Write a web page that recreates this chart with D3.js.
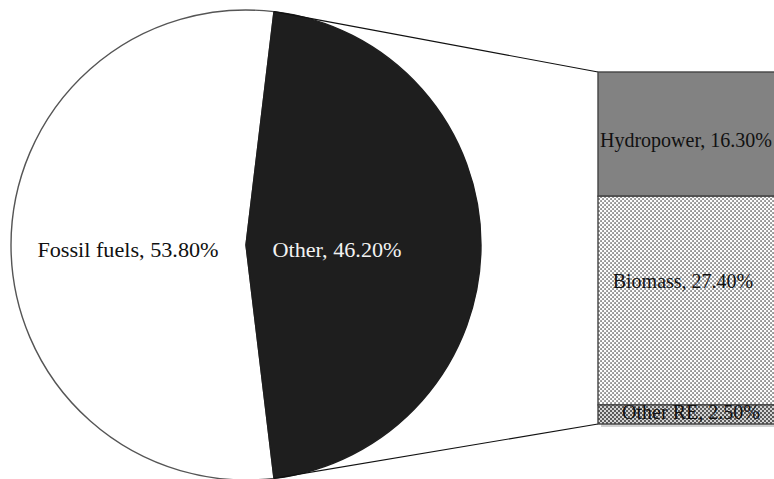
<!DOCTYPE html>
<html>
<head>
<meta charset="utf-8">
<title>Pie of bar</title>
<script src="https://d3js.org/d3.v7.min.js"></script>
<style>
  body { margin: 0; background: #fff; }
  text { font-family: "Liberation Serif", "Times New Roman", serif; }
</style>
</head>
<body>
<div id="chart"></div>
<script>
// pie data
var pieCategories = ["Fossil fuels", "Other"];
var pieValues = [53.8, 46.2];
// bar breakdown of "Other"
var barCategories = ["Hydropower", "Biomass", "Other RE"];
var barValues = [16.3, 27.4, 2.5];

var width = 774, height = 479;
var cx = 246, cy = 245, radius = 235;
var barX = 598, barW = 180, barTop = 72, barBottom = 424;

var svg = d3.select("#chart").append("svg")
  .attr("width", width).attr("height", height);

var defs = svg.append("defs");
// dotted pattern for biomass
var p1 = defs.append("pattern").attr("id", "dots").attr("patternUnits", "userSpaceOnUse")
  .attr("width", 4).attr("height", 4);
p1.append("rect").attr("width", 4).attr("height", 4).attr("fill", "#fdfdfd");
p1.append("rect").attr("x", 0.2).attr("y", 0.2).attr("width", 1.7).attr("height", 1.7).attr("fill", "#7a7a7a");
p1.append("rect").attr("x", 2.2).attr("y", 2.2).attr("width", 1.7).attr("height", 1.7).attr("fill", "#7a7a7a");
// denser pattern for other RE
var p2 = defs.append("pattern").attr("id", "dense").attr("patternUnits", "userSpaceOnUse")
  .attr("width", 4).attr("height", 4);
p2.append("rect").attr("width", 4).attr("height", 4).attr("fill", "#d4d4d4");
p2.append("rect").attr("x", 0).attr("y", 0).attr("width", 2).attr("height", 2).attr("fill", "#5a5a5a");
p2.append("rect").attr("x", 2).attr("y", 2).attr("width", 2).attr("height", 2).attr("fill", "#5a5a5a");

var pieColors = ["#ffffff", "#1e1e1e"];
var pieText = ["#111", "#f2f2f2"];
var barFills = ["#828282", "url(#dots)", "url(#dense)"];

// rotate so that "Other" is centred on the right side
var otherShare = pieValues[1] / d3.sum(pieValues);
var start = Math.PI / 2 + otherShare * Math.PI;

var pie = d3.pie().sort(null).value(function(d) { return d; })
  .startAngle(start).endAngle(start + 2 * Math.PI);
var arcs = pie(pieValues);
var arc = d3.arc().innerRadius(0).outerRadius(radius);

var g = svg.append("g").attr("transform", "translate(" + cx + "," + cy + ")");
g.selectAll("path").data(arcs).enter().append("path")
  .attr("d", arc)
  .attr("fill", function(d, i) { return pieColors[i]; })
  .attr("stroke", function(d, i) { return i == 0 ? "#555" : "#1e1e1e"; })
  .attr("stroke-width", 1.4);

// label positions relative to pie centre (text a bit wide, as in the original)
var labelPos = [[-118, 12], [91, 12]];
g.selectAll("text.pl").data(arcs).enter().append("text")
  .attr("class", "pl")
  .attr("transform", function(d, i) {
    return "translate(" + labelPos[i][0] + "," + labelPos[i][1] + ") scale(1.11,1)";
  })
  .attr("text-anchor", "middle")
  .attr("font-size", 20)
  .attr("fill", function(d, i) { return pieText[i]; })
  .text(function(d, i) { return pieCategories[i] + ", " + pieValues[i].toFixed(2) + "%"; });

// connector lines from the "Other" slice edges to the bar corners
var o = arcs[1];
function pt(a) { return [cx + radius * Math.sin(a), cy - radius * Math.cos(a)]; }
var pTop = pt(o.startAngle), pBot = pt(o.endAngle);
svg.append("line").attr("x1", pTop[0]).attr("y1", pTop[1]).attr("x2", barX).attr("y2", barTop)
  .attr("stroke", "#111").attr("stroke-width", 1.2);
svg.append("line").attr("x1", pBot[0]).attr("y1", pBot[1]).attr("x2", barX).attr("y2", barBottom)
  .attr("stroke", "#111").attr("stroke-width", 1.2);

// stacked bar
var y = d3.scaleLinear().domain([0, d3.sum(barValues)]).range([barTop, barBottom]);
var cum = 0;
var segs = barValues.map(function(v, i) {
  var s = { i: i, y0: cum, y1: cum + v, v: v };
  cum += v;
  return s;
});

svg.append("rect").attr("x", barX + 3).attr("y", barTop + 3)
  .attr("width", barW).attr("height", barBottom - barTop)
  .attr("fill", "#000").attr("opacity", 0.18);

var bar = svg.append("g");
bar.selectAll("rect").data(segs).enter().append("rect")
  .attr("x", barX).attr("width", barW)
  .attr("y", function(d) { return y(d.y0); })
  .attr("height", function(d) { return y(d.y1) - y(d.y0); })
  .attr("fill", function(d) { return barFills[d.i]; })
  .attr("stroke", "#444").attr("stroke-width", 1.4);

// label x centre and baseline shift from segment middle
var barLabelX = [686, 683, 691];
var barLabelDy = [13, -13, 5];
bar.selectAll("text").data(segs).enter().append("text")
  .attr("x", function(d) { return barLabelX[d.i]; })
  .attr("y", function(d) { return (y(d.y0) + y(d.y1)) / 2 + barLabelDy[d.i]; })
  .attr("text-anchor", "middle")
  .attr("font-size", 20)
  .attr("fill", "#111")
  .text(function(d) { return barCategories[d.i] + ", " + d.v.toFixed(2) + "%"; });
</script>
</body>
</html>
